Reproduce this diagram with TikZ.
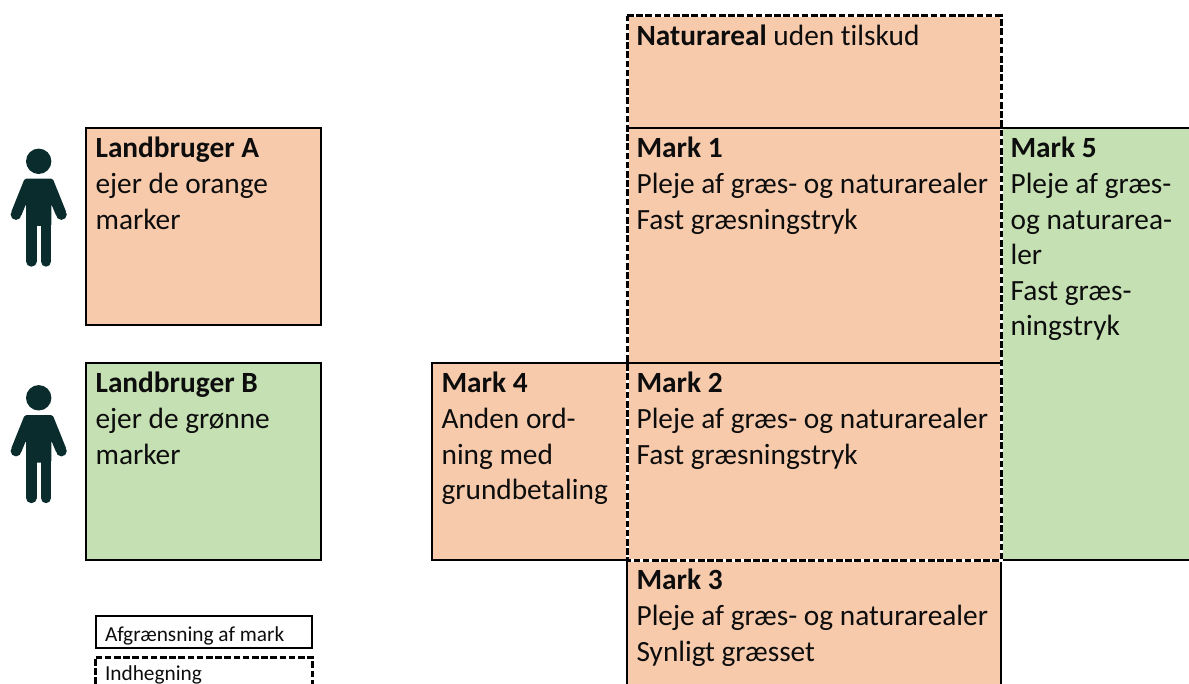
\documentclass[tikz,border=0pt]{standalone}
\usepackage{fontspec}
\setmainfont{Carlito}[Ligatures=NoCommon]
\definecolor{orangefield}{HTML}{F7CAAC}
\definecolor{greenfield}{HTML}{C5E0B3}
\definecolor{persondark}{HTML}{0B2C2C}
\tikzset{
  field/.style={anchor=north west,inner sep=0pt,outer sep=0pt,draw=none},
  ofield/.style={field,fill=orangefield},
  gfield/.style={field,fill=greenfield},
  solidedge/.style={draw=black,line width=2.2pt,line cap=rect},
  fenceunder/.style={draw=white,line width=3pt},
  fence/.style={draw=black,line width=3pt,dash pattern=on 6.6pt off 2.6pt},
  txt/.style={anchor=north west,inner sep=0pt,outer sep=0pt,align=left,xshift=9.6pt,yshift=-9.4pt,
    font=\fontsize{29.33}{35.6}\selectfont,text=black!95},
  legendtxt/.style={anchor=north west,inner sep=0pt,outer sep=0pt,font=\fontsize{21.33}{26}\selectfont,text=black!95},
  person/.pic={
    \fill[persondark] (38.7,161.3) circle[radius=12.7];
    \fill[persondark,rounded corners=1.5pt] (24.6,178.7) -- (52.8,178.7) -- (66.4,212.5) -- (56.5,216.5) -- (51.3,204) -- (51.3,226) -- (26,226) -- (26,204) -- (20.9,216.5) -- (11,212.5) -- cycle;
    \fill[persondark] (16,214.5) circle[radius=5.4] (61.4,214.5) circle[radius=5.4];
    \draw[persondark,line width=10.6pt,line cap=round] (31.35,222) -- (31.35,261.4) (46,222) -- (46,261.4);
  }
}
\begin{document}
\begin{tikzpicture}[x=1pt,y=-1pt]
\useasboundingbox (0,0) rectangle (1189,684);
% persons
\pic (pa) at (0,0) {person};
\pic (pb) at (0,236.5) {person};
% field fills
\node[ofield,minimum width=235pt,minimum height=197pt] (a) at (86,128) {};
\node[gfield,minimum width=235pt,minimum height=197pt] (b) at (86,363) {};
\node[ofield,minimum width=374pt,minimum height=112pt] (nat) at (627,16) {};
\node[ofield,minimum width=374pt,minimum height=235pt] (m1) at (627,128) {};
\node[ofield,minimum width=374pt,minimum height=197pt] (m2) at (627,363) {};
\node[ofield,minimum width=374pt,minimum height=124pt] (m3) at (627,560) {};
\node[ofield,minimum width=195pt,minimum height=197pt] (m4) at (432,363) {};
\node[gfield,minimum width=188pt,minimum height=432pt] (m5) at (1001,128) {};
% legend frames
\node[field,minimum width=216pt,minimum height=32pt] (ls) at (96,616) {};
\node[field,minimum width=217pt,minimum height=27pt] (ld) at (95,657) {};
% solid boundaries
\draw[solidedge] (a.north west) rectangle (a.south east);
\draw[solidedge] (b.north west) rectangle (b.south east);
\draw[solidedge] (ls.north west) rectangle (ls.south east);
\draw[solidedge] (m4.south east) -- (m4.south west) -- (m4.north west) -- (m4.north east) -- (m2.north east);
\draw[solidedge] (m5.south west) -- (m5.south east);
\draw[solidedge] (m3.north west) -- (m3.south west);
\draw[solidedge] (m3.north east) -- (m3.south east);
% fence
\draw[fenceunder] (nat.north west) -- (nat.north east) -- (m2.south east) -- (m2.south west) -- cycle;
\draw[fence] (nat.north west) -- (nat.north east) -- (m2.south east) -- (m2.south west) -- cycle;
\draw[fence] (ld.south west) -- (ld.north west) -- (ld.north east) -- (ld.south east);
\draw[solidedge] (m1.north west) -- (m5.north east);
\draw[solidedge] (m2.north west) -- (m2.north east);
% texts
\node[txt] (ta) at (a.north west) {\textbf{Landbruger A}\\ejer de orange\\marker};
\node[txt] (tb) at (b.north west) {\textbf{Landbruger B}\\ejer de grønne\\marker};
\node[txt] (tn) at (nat.north west) {\textbf{Naturareal} uden tilskud};
\node[txt] (t1) at (m1.north west) {\textbf{Mark 1}\\Pleje af græs- og naturarealer\\Fast græsningstryk};
\node[txt] (t2) at (m2.north west) {\textbf{Mark 2}\\Pleje af græs- og naturarealer\\Fast græsningstryk};
\node[txt] (t3) at (m3.north west) {\textbf{Mark 3}\\Pleje af græs- og naturarealer\\Synligt græsset};
\node[txt] (t4) at (m4.north west) {\textbf{Mark 4}\\Anden ord-\\ning med\\grundbetaling};
\node[txt] (t5) at (m5.north west) {\textbf{Mark 5}\\Pleje af græs-\\og naturarea-\\ler\\Fast græs-\\ningstryk};
\node[legendtxt] (tls) at (105,626.5) {Afgrænsning af mark};
\node[legendtxt] (tld) at (105,666) {Indhegning};
\end{tikzpicture}
\end{document}
